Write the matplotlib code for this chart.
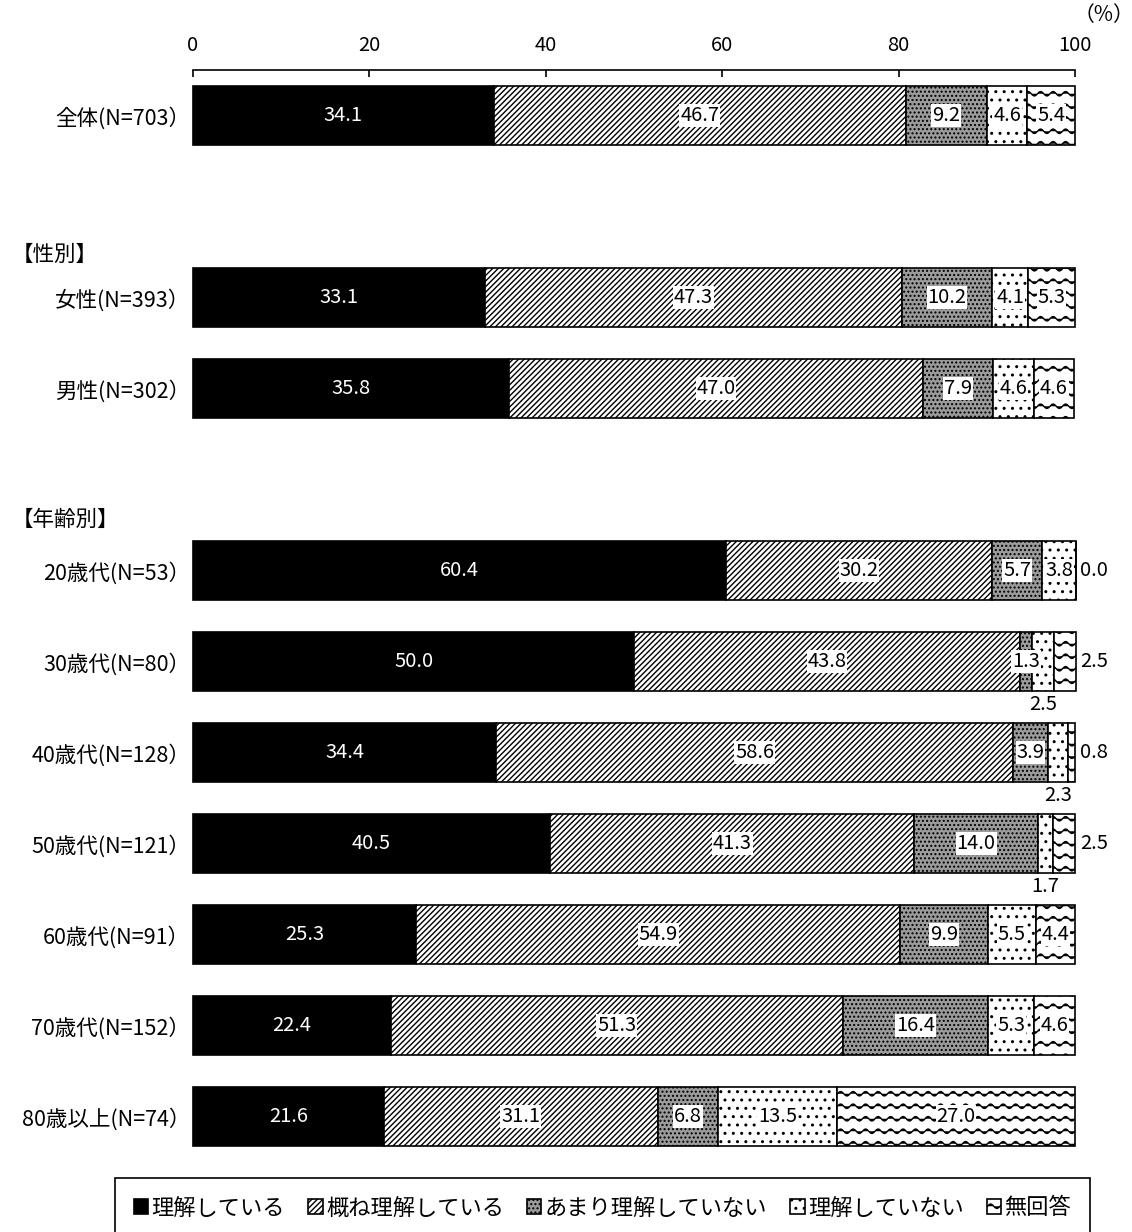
import numpy as np
import matplotlib
matplotlib.use("Agg")
import matplotlib.pyplot as plt
import matplotlib.hatch as mhatch
from matplotlib.path import Path
from matplotlib.transforms import blended_transform_factory

# ---------------- data ----------------
row_labels = ["全体(N=703）", "女性(N=393）", "男性(N=302）",
              "20歳代(N=53）", "30歳代(N=80）", "40歳代(N=128）", "50歳代(N=121）",
              "60歳代(N=91）", "70歳代(N=152）", "80歳以上(N=74）"]
categories = ["理解している", "概ね理解している", "あまり理解していない", "理解していない", "無回答"]
understand = [34.1, 33.1, 35.8, 60.4, 50.0, 34.4, 40.5, 25.3, 22.4, 21.6]
mostly = [46.7, 47.3, 47.0, 30.2, 43.8, 58.6, 41.3, 54.9, 51.3, 31.1]
not_much = [9.2, 10.2, 7.9, 5.7, 1.3, 3.9, 14.0, 9.9, 16.4, 6.8]
not_at_all = [4.6, 4.1, 4.6, 3.8, 2.5, 2.3, 1.7, 5.5, 5.3, 13.5]
no_answer = [5.4, 5.3, 4.6, 0.0, 2.5, 0.8, 2.5, 4.4, 4.6, 27.0]
x_ticks = [0, 20, 40, 60, 80, 100]
group_headings = ["【性別】", "【年齢別】"]

# ---------------- layout / style ----------------
row_pos = [0, 2, 3, 5, 6, 7, 8, 9, 10, 11]
heading_pos = [1.53, 4.45]
bar_h = 0.645
faces = ["black", "white", "#9c9c9c", "white", "white"]
hatches = [None, "//////", "....", "..", "-"]


# custom wavy hatch replacing the horizontal-line hatch ('-')
class WaveHatch(mhatch.HatchPatternBase):
    def __init__(self, hatch, density):
        self.num_lines = int(hatch.count('-') * 8)
        self.nseg = 160
        self.num_vertices = self.num_lines * (self.nseg + 1)

    def set_vertices_and_codes(self, vertices, codes):
        if self.num_lines == 0:
            return
        xs = np.linspace(0.0, 1.0, self.nseg + 1)
        steps, stepsize = np.linspace(0.0, 1.0, self.num_lines, False, retstep=True)
        steps += stepsize / 2.0
        n = self.nseg + 1
        for i, s in enumerate(steps):
            vertices[i * n:(i + 1) * n, 0] = xs
            vertices[i * n:(i + 1) * n, 1] = s + 0.022 * np.sin(2 * np.pi * 8 * xs)
            codes[i * n] = Path.MOVETO
            codes[i * n + 1:(i + 1) * n] = Path.LINETO


mhatch._hatch_types[0] = WaveHatch

plt.rcParams['font.family'] = ['Noto Sans CJK JP', 'DejaVu Sans']
plt.rcParams['hatch.linewidth'] = 1.0

W, H = 1132, 1232
fig = plt.figure(figsize=(W / 100, H / 100), dpi=100)
ax_top_px, ax_bot_px = 70, 1162
ax = fig.add_axes([193 / W, 1 - ax_bot_px / H, 882 / W, (ax_bot_px - ax_top_px) / H])

VFS = 14.5
series = [understand, mostly, not_much, not_at_all, no_answer]
left = np.zeros(len(row_labels))
handles = []
for ci, (name, vals) in enumerate(zip(categories, series)):
    vals = np.array(vals)
    bars = ax.barh(row_pos, vals, left=left, height=bar_h, color=faces[ci],
                   edgecolor="black", linewidth=1.2, hatch=hatches[ci],
                   label=name, clip_on=False, zorder=2)
    handles.append(bars)
    for ri, (v, l0) in enumerate(zip(vals, left)):
        y = row_pos[ri]
        cx = l0 + v / 2
        txt = f"{v:.1f}"
        if ci == 4 and v < 3:
            ax.text(100.6, y, txt, ha="left", va="center", fontsize=VFS, zorder=5)
        elif ci == 3 and v < 3:
            ax.text(cx, y + 0.47, txt, ha="center", va="center", fontsize=VFS, zorder=5)
        elif ci == 0:
            ax.text(cx, y, txt, ha="center", va="center", fontsize=VFS, color="white", zorder=5)
        else:
            ax.text(cx, y, txt, ha="center", va="center", fontsize=VFS, color="black", zorder=5,
                    bbox=dict(facecolor="white", edgecolor="none", pad=0.6))
    left = left + vals

ax.set_xlim(0, 100)
ax.set_ylim(11.5, -0.5)
ax.xaxis.tick_top()
ax.set_xticks(x_ticks)
ax.set_xticklabels([str(t) for t in x_ticks], fontsize=14.5)
ax.tick_params(axis="x", direction="in", length=5, width=1.2, pad=10, top=True, bottom=False)
ax.set_yticks(row_pos)
ax.set_yticklabels(row_labels, fontsize=15.5)
ax.tick_params(axis="y", length=0, pad=2)
for s in ["left", "right", "bottom"]:
    ax.spines[s].set_visible(False)
ax.spines["top"].set_linewidth(1.2)

tr = blended_transform_factory(fig.transFigure, ax.transData)
for txt, yp in zip(group_headings, heading_pos):
    ax.text(12 / W, yp, txt, transform=tr, ha="left", va="center", fontsize=15.5)

fig.text(1104 / W, 1 - 15 / H, "（%）", ha="center", va="center", fontsize=15)

h = 62 / H
leg = fig.legend(handles=handles, labels=categories, loc="center",
                 bbox_to_anchor=(115 / W, 1 - 1208 / H - h / 2, 975 / W, h),
                 mode="expand", ncol=5, frameon=True, fancybox=False,
                 edgecolor="black", framealpha=1, fontsize=16,
                 handlelength=0.65, handleheight=0.65, handletextpad=0.15,
                 borderpad=0.85, borderaxespad=0, columnspacing=0.8)
leg.get_frame().set_linewidth(1.2)

fig.savefig("out.png", dpi=100)
